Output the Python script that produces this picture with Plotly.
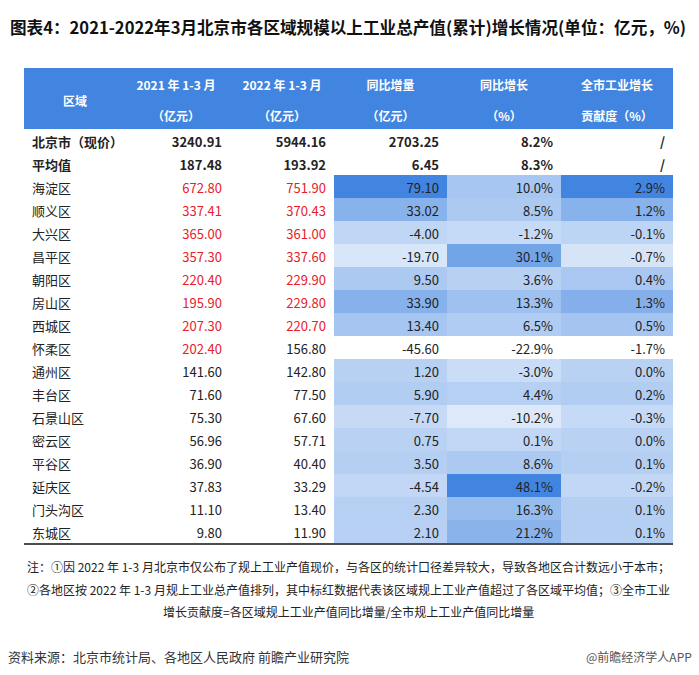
import plotly.graph_objects as go

# ── Data ─────────────────────────────────────────────
districts = ["北京市（现价）", "平均值", "海淀区", "顺义区", "大兴区", "昌平区", "朝阳区",
             "房山区", "西城区", "怀柔区", "通州区", "丰台区", "石景山区", "密云区",
             "平谷区", "延庆区", "门头沟区", "东城区"]
val_2021 = [3240.91, 187.48, 672.80, 337.41, 365.00, 357.30, 220.40, 195.90, 207.30,
            202.40, 141.60, 71.60, 75.30, 56.96, 36.90, 37.83, 11.10, 9.80]
val_2022 = [5944.16, 193.92, 751.90, 370.43, 361.00, 337.60, 229.90, 229.80, 220.70,
            156.80, 142.80, 77.50, 67.60, 57.71, 40.40, 33.29, 13.40, 11.90]
yoy_amount = [2703.25, 6.45, 79.10, 33.02, -4.00, -19.70, 9.50, 33.90, 13.40,
              -45.60, 1.20, 5.90, -7.70, 0.75, 3.50, -4.54, 2.30, 2.10]
yoy_growth = [8.2, 8.3, 10.0, 8.5, -1.2, 30.1, 3.6, 13.3, 6.5,
              -22.9, -3.0, 4.4, -10.2, 0.1, 8.6, 48.1, 16.3, 21.2]
contribution = [None, None, 2.9, 1.2, -0.1, -0.7, 0.4, 1.3, 0.5,
                -1.7, 0.0, 0.2, -0.3, 0.0, 0.1, -0.2, 0.1, 0.1]

region_label = "区域"
header_top = ["", "2021 年 1-3 月", "2022 年 1-3 月", "同比增量", "同比增长", "全市工业增长"]
header_bottom = ["", "（亿元）", "（亿元）", "（亿元）", "（%）", "贡献度（%）"]

title = "图表4：2021-2022年3月北京市各区域规模以上工业总产值(累计)增长情况(单位：亿元，%)"
notes = ["注：①因 2022 年 1-3 月北京市仅公布了规上工业产值现价，与各区的统计口径差异较大，导致各地区合计数远小于本市；",
         "②各地区按 2022 年 1-3 月规上工业总产值排列，其中标红数据代表该区域规上工业产值超过了各区域平均值；③全市工业",
         "增长贡献度=各区域规上工业产值同比增量/全市规上工业产值同比增量"]
source = "资料来源：北京市统计局、各地区人民政府 前瞻产业研究院"
brand = "@前瞻经济学人APP"

# ── Styling helpers ──────────────────────────────────
BLUE = (66, 133, 224)
HEADER_BLUE = "rgb(66,133,224)"
RED = "#e8202a"
TEXT = "#222222"
N_TOP = 2  # bold summary rows (北京市, 平均值)
FONT = "Noto Sans CJK SC"


def _scale(vals):
    """White -> blue colour scale over the district rows (like Excel conditional format)."""
    lo, hi = min(vals), max(vals)
    out = []
    for v in vals:
        t = (v - lo) / (hi - lo)
        r, g, b = (round(255 - t * (255 - c)) for c in BLUE)
        out.append(f"rgb({r},{g},{b})")
    return out


col_names = districts
col_2021 = [f"{v:.2f}" for v in val_2021]
col_2022 = [f"{v:.2f}" for v in val_2022]
col_amt = [f"{v:.2f}" for v in yoy_amount]
col_gr = [f"{v:.1f}%" for v in yoy_growth]
col_ctb = ["/" if v is None else f"{v:.1f}%" for v in contribution]
columns = [col_names, col_2021, col_2022, col_amt, col_gr, col_ctb]

avg21, avg22 = val_2021[1], val_2022[1]
red21 = [RED if v > avg21 else TEXT for v in val_2021[N_TOP:]]
red22 = [RED if v > avg22 else TEXT for v in val_2022[N_TOP:]]
m = len(districts) - N_TOP

white = ["#ffffff"] * m
fills = [white, white, white,
         _scale(yoy_amount[N_TOP:]), _scale(yoy_growth[N_TOP:]), _scale(contribution[N_TOP:])]

# ── Geometry (px) ────────────────────────────────────
W, H = 699, 675
X0, X1 = 24, 673
HEAD_TOP, HEAD_TEXT_TOP, HEAD_ROW, ROW_H = 68, 73, 31, 23
BODY_TOP = 129
table_bottom = BODY_TOP + len(districts) * ROW_H
widths = [98, 108, 104, 113, 114, 112]
aligns = ["left", "right", "right", "right", "right", "right"]
no_line = dict(width=0, color="rgba(0,0,0,0)")


def _ydom(top, bottom):
    return [1 - bottom / H, 1 - top / H]


fig = go.Figure()

# blue header (two header rows); the body table below is drawn over its lower edge
fig.add_trace(go.Table(
    domain=dict(x=[X0 / W, X1 / W], y=_ydom(HEAD_TEXT_TOP, HEAD_TEXT_TOP + 2 * HEAD_ROW + 1)),
    columnwidth=widths,
    header=dict(values=[[a, b] for a, b in zip(header_top, header_bottom)],
                fill_color=HEADER_BLUE, line=no_line,
                align="center", height=HEAD_ROW,
                font=dict(family=FONT, size=12, color="white", weight="bold")),
))
fig.add_shape(type="rect", xref="paper", yref="paper", layer="above",
              x0=X0 / W, x1=X1 / W, y0=1 - (HEAD_TEXT_TOP + 1) / H, y1=1 - HEAD_TOP / H,
              fillcolor=HEADER_BLUE, line=dict(width=0))

# bold summary rows as header, district rows with colour scale as cells
fig.add_trace(go.Table(
    domain=dict(x=[X0 / W, X1 / W], y=_ydom(BODY_TOP, 600)),
    columnwidth=widths,
    header=dict(values=[c[:N_TOP] for c in columns], fill_color="white", line=no_line,
                align=aligns, height=ROW_H,
                font=dict(family=FONT, size=13, color=TEXT, weight="bold")),
    cells=dict(values=[c[N_TOP:] for c in columns], fill_color=fills, line=no_line,
               align=aligns, height=ROW_H,
               font=dict(family=FONT, size=13,
                         color=[[TEXT] * m, red21, red22, [TEXT] * m, [TEXT] * m, [TEXT] * m])),
))

fig.add_annotation(text=f"<b>{region_label}</b>", xref="paper", yref="paper",
                   x=75 / W, y=1 - 100 / H, showarrow=False,
                   xanchor="center", yanchor="middle",
                   font=dict(family=FONT, size=12, color="white"))

# bottom rule of the table
fig.add_shape(type="line", xref="paper", yref="paper",
              x0=X0 / W, x1=X1 / W, y0=1 - (table_bottom + 1) / H, y1=1 - (table_bottom + 1) / H,
              line=dict(color="#111111", width=1.5))

fig.add_annotation(text=f"<b>{title}</b>", xref="paper", yref="paper", x=8 / W, y=1 - 27 / H,
                   xanchor="left", yanchor="middle", showarrow=False,
                   font=dict(family=FONT, size=16.6, color="#111111"))

for line, yy in zip(notes, [566, 589, 611]):
    fig.add_annotation(text=line, xref="paper", yref="paper", x=348 / W, y=1 - yy / H,
                       xanchor="center", yanchor="middle", showarrow=False,
                       font=dict(family=FONT, size=12, color="#222222"))

fig.add_annotation(text=source, xref="paper", yref="paper", x=6 / W, y=1 - 656 / H,
                   xanchor="left", yanchor="middle", showarrow=False,
                   font=dict(family=FONT, size=13, color="#333333"))
fig.add_annotation(text=brand, xref="paper", yref="paper", x=694 / W, y=1 - 656 / H,
                   xanchor="right", yanchor="middle", showarrow=False,
                   font=dict(family=FONT, size=12, color="#555555"))

fig.update_layout(
    width=W, height=H,
    margin=dict(l=0, r=0, t=0, b=0),
    paper_bgcolor="white",
    plot_bgcolor="white",
)

# page body has a default 8px margin; drop it so the figure sits at the window origin
fig.write_html("out.html", config={"displayModeBar": False},
               post_script="document.body.style.margin='0';")
